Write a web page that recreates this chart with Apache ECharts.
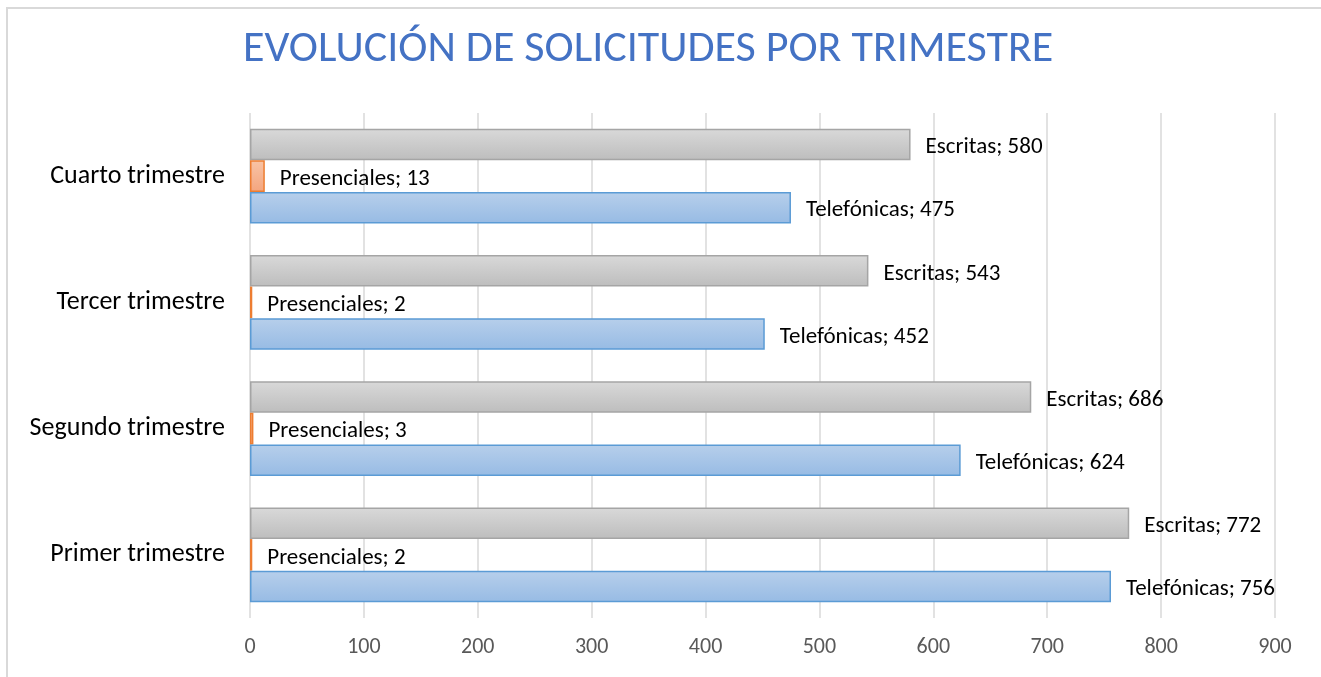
<!DOCTYPE html>
<html lang="es">
<head>
    <meta charset="UTF-8">
    <title>Evolución de solicitudes por trimestre</title>
    <script src="https://cdn.jsdelivr.net/npm/echarts@6/dist/echarts.min.js"></script>
</head>
<body style="margin: 0; background: #fff">
<div id="frame" style="position: absolute; left: 6px; top: 7px; width: 1400px; height: 700px; border-left: 2px solid #d9d9d9; border-top: 2px solid #d9d9d9"></div>
<div id="chart" style="position: absolute; left: 0; top: 0; width: 1321px; height: 677px"></div>

<script>
    // datos del gráfico
    let trimestres = ['Primer trimestre', 'Segundo trimestre', 'Tercer trimestre', 'Cuarto trimestre'];
    let telefonicas = [756, 624, 452, 475];
    let presenciales = [2, 3, 2, 13];
    let escritas = [772, 686, 543, 580];
    let ticks = [0, 100, 200, 300, 400, 500, 600, 700, 800, 900];

    let fuente = 'Carlito, Lato, "Open Sans", sans-serif';

    function degradado(c1, c2) {
        return new echarts.graphic.LinearGradient(0, 0, 0, 1, [
            {offset: 0, color: c1},
            {offset: 1, color: c2}
        ]);
    }

    function serie(nombre, datos, c1, c2, borde) {
        return {
            name: nombre,
            type: 'bar',
            data: datos,
            barGap: '0%',
            barCategoryGap: '25%',
            itemStyle: {
                color: degradado(c1, c2),
                borderColor: borde,
                borderWidth: 1.5
            },
            label: {
                show: true,
                position: 'right',
                distance: 15,
                offset: [0, 3],
                formatter: '{a}; {c}',
                color: '#000',
                fontFamily: fuente,
                fontSize: 23
            }
        };
    }

    let myChart = echarts.init(document.getElementById('chart'));
    let option = {
        animation: false,
        title: {
            text: 'EVOLUCIÓN DE SOLICITUDES POR TRIMESTRE',
            left: 238,
            top: 23,
            textStyle: {
                color: '#4472c4',
                fontFamily: fuente,
                fontWeight: 300,
                fontSize: 44
            }
        },
        grid: {left: 250, right: 46, top: 113, bottom: 59, containLabel: false},
        xAxis: {
            type: 'value',
            min: ticks[0],
            max: ticks[ticks.length - 1],
            interval: 100,
            axisLine: {show: false},
            axisTick: {show: false},
            axisLabel: {
                color: '#595959',
                fontFamily: fuente,
                fontSize: 22,
                margin: 18
            },
            splitLine: {lineStyle: {color: '#d9d9d9', width: 1.5}}
        },
        yAxis: {
            type: 'category',
            data: trimestres,
            axisLine: {show: false},
            axisTick: {show: false},
            axisLabel: {
                color: '#000',
                fontFamily: fuente,
                fontSize: 26,
                margin: 25,
                padding: [4, 0, 0, 0]
            }
        },
        // la primera serie queda arriba dentro de cada grupo
        series: [
            serie('Escritas', escritas, '#d9d9d9', '#bdbdbd', '#a5a5a5'),
            serie('Presenciales', presenciales, '#f8c4a6', '#f4a57e', '#ed7d31'),
            serie('Telefónicas', telefonicas, '#b7cfeb', '#97bbe4', '#5b9bd5')
        ]
    };
    myChart.setOption(option);
</script>
</body>
</html>
